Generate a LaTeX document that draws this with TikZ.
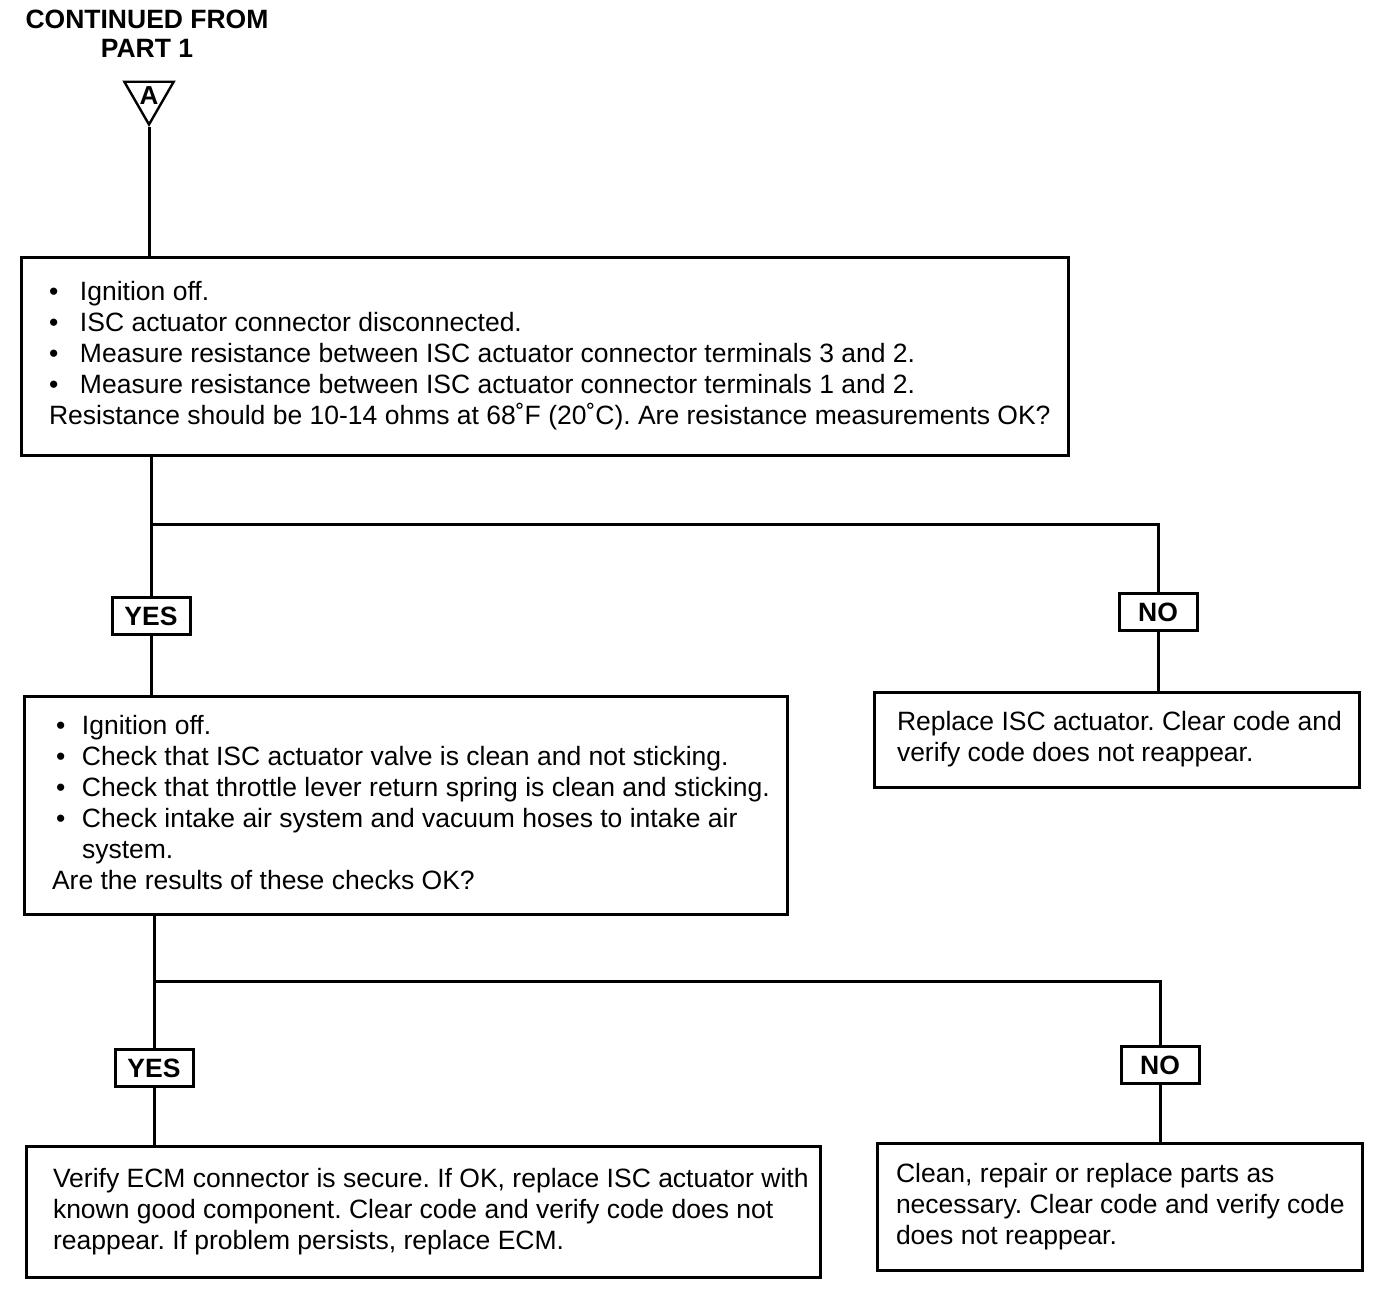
\documentclass[tikz,border=0pt]{standalone}
\usepackage{fontspec}
\setmainfont{Liberation Sans}
\usetikzlibrary{shapes.geometric}
\frenchspacing
\newcommand\flowlines[2]{\makebox[#1][l]{\begin{tabular}{@{}l@{}}#2\end{tabular}}}
\newcommand\bul[2]{\hspace*{#1}\makebox[#2][l]{\textbullet}}
\begin{document}
\begin{tikzpicture}[x=1pt,y=-1pt,
  font=\fontsize{26.5}{31}\selectfont,
  box/.style={draw, line width=3pt, anchor=north west, inner ysep=0pt},
  lbl/.style={draw, line width=3pt, font=\fontsize{26.5}{31}\selectfont\bfseries,
    minimum width=78pt, minimum height=37pt, inner sep=0pt},
  wire/.style={line width=3pt}]
\useasboundingbox (0,0) rectangle (1392,1292);

\node[font=\fontsize{26.5}{29}\selectfont\bfseries, align=center] (title) at (147,34)
  {CONTINUED FROM\\PART 1};
\node[draw, line width=2.4pt, regular polygon, regular polygon sides=3, shape border rotate=180,
  minimum size=57pt, inner sep=0pt, font=\fontsize{26}{28}\selectfont\bfseries] (tri) at (149,96) {A};

\node[box, inner xsep=27pt, minimum width=1047pt, minimum height=198pt] (b1) at (20,256)
 {\flowlines{992pt}{\bul{0pt}{31pt}Ignition off.\\
  \bul{0pt}{31pt}ISC actuator connector disconnected.\\
  \bul{0pt}{31pt}Measure resistance between ISC actuator connector terminals 3 and 2.\\
  \bul{0pt}{31pt}Measure resistance between ISC actuator connector terminals 1 and 2.\\
  Resistance should be 10-14 ohms at 68˚F (20˚C). Are resistance measurements OK?}};

\node[lbl] (yes1) at (151,616) {YES};
\node[lbl] (no1) at (1158,612) {NO};

\node[box, inner xsep=27pt, minimum width=763pt, minimum height=218pt] (b2) at (23,695)
 {\flowlines{708pt}{\bul{4pt}{26pt}Ignition off.\\
  \bul{4pt}{26pt}Check that ISC actuator valve is clean and not sticking.\\
  \bul{4pt}{26pt}Check that throttle lever return spring is clean and sticking.\\
  \bul{4pt}{26pt}Check intake air system and vacuum hoses to intake air\\
  \hspace*{30pt}system.\\
  Are the results of these checks OK?}};

\node[box, inner xsep=22pt, minimum width=485pt, minimum height=95pt] (b3) at (873,691)
 {\flowlines{440pt}{Replace ISC actuator. Clear code and\\
  verify code does not reappear.}};

\node[lbl] (yes2) at (154,1068) {YES};
\node[lbl] (no2) at (1160,1065) {NO};

\node[box, inner xsep=26pt, minimum width=794pt, minimum height=131pt] (b4) at (25,1145)
 {\flowlines{741pt}{Verify ECM connector is secure. If OK, replace ISC actuator with\\
  known good component. Clear code and verify code does not\\
  reappear. If problem persists, replace ECM.}};

\node[box, inner xsep=18pt, minimum width=485pt, minimum height=127pt] (b5) at (876,1142)
 {\flowlines{448pt}{Clean, repair or replace parts as\\
  necessary. Clear code and verify code\\
  does not reappear.}};

\coordinate (j1) at (151,524);
\coordinate (j2) at (154,981);

\draw[wire] (tri.corner 1) -- (tri.corner 1 |- b1.north);
\draw[wire] (b1.south -| yes1) -- (yes1.north);
\draw[wire] (j1) -| (no1.north);
\draw[wire] (yes1.south) -- (yes1.south |- b2.north);
\draw[wire] (no1.south) -- (no1.south |- b3.north);
\draw[wire] (b2.south -| yes2) -- (yes2.north);
\draw[wire] (j2) -| (no2.north);
\draw[wire] (yes2.south) -- (yes2.south |- b4.north);
\draw[wire] (no2.south) -- (no2.south |- b5.north);
\end{tikzpicture}
\end{document}
